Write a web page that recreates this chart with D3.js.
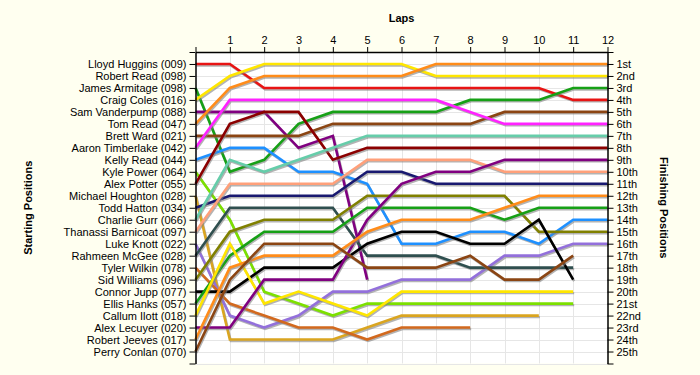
<!doctype html>
<html>
<head>
    <style>
        body { margin: 0; background: #fffff0; }
        text { font-family: "Liberation Sans", Arial, sans-serif; }
        .title { font-weight: bold; font-size: 11px; }
        .axis text { font-size: 11px; fill: #000; }
        .axis path, .axis line { stroke: #000; }
        .grid line { stroke: #e6e6e6; }
    </style>
    <script src="https://d3js.org/d3.v7.min.js"></script>
</head>
<body>
<svg id="svg1" width="700" height="375"></svg>
<script>

    var drivers = ["Lloyd Huggins (009)", "Robert Read (098)", "James Armitage (098)", "Craig Coles (016)",
        "Sam Vanderpump (088)", "Tom Read (047)", "Brett Ward (021)", "Aaron Timberlake (042)",
        "Kelly Read (044)", "Kyle Power (064)", "Alex Potter (055)", "Michael Houghton (028)",
        "Todd Hatton (034)", "Charlie Gurr (066)", "Thanassi Barnicoat (097)", "Luke Knott (022)",
        "Rahmeen McGee (028)", "Tyler Wilkin (078)", "Sid Williams (096)", "Connor Jupp (077)",
        "Ellis Hanks (057)", "Callum Ilott (018)", "Alex Lecuyer (020)", "Robert Jeeves (017)",
        "Perry Conlan (070)"];

    var finishLabels = ["1st", "2nd", "3rd", "4th", "5th", "6th", "7th", "8th", "9th", "10th",
        "11th", "12th", "13th", "14th", "15th", "16th", "17th", "18th", "19th", "20th",
        "21st", "22nd", "23rd", "24th", "25th"];

    var lapTicks = [1, 2, 3, 4, 5, 6, 7, 8, 9, 10, 11, 12];

    var lineColors = ["#e81414", null, "#16a016", "#ffe600", "#800080", "#ff8c1a", "#8b4513", "#ff22ff",
        "#1e90ff", "#7ce000", "#8b0000", "#daa520", "#191970", "#66cdaa", "#ffa07a", "#9370db",
        "#2f4f4f", "#d2691e", "#808000", "#000000", "#16a016", "#ffe600", "#800080", "#ff8c1a",
        "#8b4513"];

    // position at each lap, 0..12 (shorter = retired)
    var lapPositions = [
        [1, 1, 3, 3, 3, 3, 3, 3, 3, 3, 3, 4, 4],
        [],
        [3, 10, 9, 6, 5, 5, 5, 5, 4, 4, 4, 3, 3],
        [4, 2, 1, 1, 1, 1, 1, 2, 2, 2, 2, 2, 2],
        [5, 5, 5, 8, 7, 19],
        [6, 3, 2, 2, 2, 2, 2, 1, 1, 1, 1, 1, 1],
        [7, 7, 7, 7, 6, 6, 6, 6, 6, 5, 5, 5, 5],
        [8, 4, 4, 4, 4, 4, 4, 4, 5, 6, 6, 6, 6],
        [9, 8, 8, 10, 10, 11, 16, 16, 15, 15, 16, 14, 14],
        [10, 14, 20, 21, 22, 21, 21, 21, 21, 21, 21, 21],
        [11, 6, 5, 5, 9, 8, 8, 8, 8, 8, 8, 8, 8],
        [12, 24, 24, 24, 24, 23, 22, 22, 22, 22, 22],
        [13, 12, 12, 12, 12, 10, 10, 11, 11, 11, 11, 11, 11],
        [14, 9, 10, 9, 8, 7, 7, 7, 7, 7, 7, 7, 7],
        [15, 11, 11, 11, 11, 9, 9, 9, 9, 10, 10, 10, 10],
        [16, 22, 23, 22, 20, 20, 19, 19, 19, 17, 17, 16, 16],
        [17, 13, 13, 13, 13, 17, 17, 17, 18, 18, 18, 18],
        [18, 21, 22, 23, 23, 24, 23, 23, 23],
        [19, 15, 14, 14, 14, 12, 12, 12, 12, 12, 15, 15, 15],
        [20, 20, 18, 18, 18, 16, 15, 15, 16, 16, 14, 19],
        [21, 17, 15, 15, 15, 13, 13, 13, 13, 14, 13, 13, 13],
        [22, 16, 21, 20, 21, 22, 20, 20, 20, 20, 20, 20],
        [23, 23, 19, 19, 19, 14, 11, 10, 10, 9, 9, 9, 9],
        [24, 18, 17, 17, 17, 15, 14, 14, 14, 13, 12, 12, 12],
        [25, 19, 16, 16, 16, 18, 18, 18, 17, 19, 19, 17]
    ];

    var svg = d3.select("#svg1"),
        plotLeft = 195.5,
        plotRight = 607.5,
        plotTop = 52,
        plotBottom = 363.5;

    var x = d3.scaleLinear().domain([0, 12]).range([plotLeft, plotRight]),
        y = d3.scaleLinear().domain([0, 26]).range([plotTop, plotBottom]);

    svg.append("rect")
       .attr("x", plotLeft).attr("y", plotTop)
       .attr("width", plotRight - plotLeft).attr("height", plotBottom - plotTop)
       .attr("fill", "#ffffff");

    // grid
    var grid = svg.append("g").attr("class", "grid");
    grid.selectAll(".v")
        .data(d3.range(1, 12))
        .enter().append("line")
        .attr("x1", function(d) { return Math.round(x(d)) + 0.5; })
        .attr("x2", function(d) { return Math.round(x(d)) + 0.5; })
        .attr("y1", plotTop).attr("y2", plotBottom);
    grid.selectAll(".h")
        .data(d3.range(1, 27))
        .enter().append("line")
        .attr("y1", function(d) { return Math.round(y(d)) + 0.5; })
        .attr("y2", function(d) { return Math.round(y(d)) + 0.5; })
        .attr("x1", plotLeft).attr("x2", plotRight);

    // lines
    var line = d3.line()
        .x(function(d, i) { return x(i); })
        .y(function(d) { return y(d); });

    var plot = svg.append("g");
    lapPositions.forEach(function(p, i) {
        if (p.length < 2) return;
        plot.append("path")
            .attr("d", line(p))
            .attr("fill", "none")
            .attr("stroke", "#808080")
            .attr("stroke-opacity", 0.6)
            .attr("stroke-width", 2.4)
            .attr("transform", "translate(1,1.5)");
        plot.append("path")
            .attr("d", line(p))
            .attr("fill", "none")
            .attr("stroke", lineColors[i])
            .attr("stroke-width", 2.6);
    });

    // axes
    svg.append("g")
       .attr("class", "axis")
       .attr("transform", "translate(0," + plotTop + ")")
       .call(d3.axisTop(x).tickValues(d3.range(0, 13)).tickSize(5).tickSizeOuter(0).tickPadding(3)
           .tickFormat(function(d) { return lapTicks.indexOf(d) >= 0 ? d : ""; }));

    svg.append("g")
       .attr("class", "axis")
       .attr("transform", "translate(" + plotLeft + ",0)")
       .call(d3.axisLeft(y).tickValues(d3.range(0, 27)).tickSize(6).tickSizeOuter(0).tickPadding(3)
           .tickFormat(function(d) { return drivers[d - 1] || ""; }));

    svg.append("g")
       .attr("class", "axis")
       .attr("transform", "translate(" + plotRight + ",0)")
       .call(d3.axisRight(y).tickValues(d3.range(0, 27)).tickSize(6).tickSizeOuter(0).tickPadding(3)
           .tickFormat(function(d) { return finishLabels[d - 1] || ""; }));

    svg.selectAll(".axis .domain").attr("stroke-width", 1.5);

    // titles
    svg.append("text")
       .attr("class", "title")
       .attr("x", (plotLeft + plotRight) / 2)
       .attr("y", 22)
       .attr("text-anchor", "middle")
       .text("Laps");

    svg.append("text")
       .attr("class", "title")
       .attr("transform", "translate(32," + ((plotTop + plotBottom) / 2) + ") rotate(-90)")
       .attr("text-anchor", "middle")
       .text("Starting Positions");

    svg.append("text")
       .attr("class", "title")
       .attr("transform", "translate(660," + ((plotTop + plotBottom) / 2) + ") rotate(90)")
       .attr("text-anchor", "middle")
       .text("Finishing Positions");
</script>
</body>
</html>
